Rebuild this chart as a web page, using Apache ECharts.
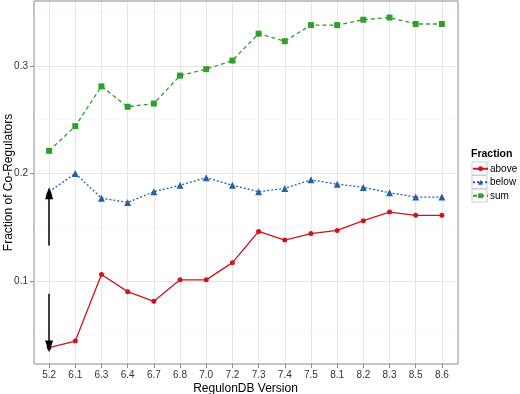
<!DOCTYPE html>
<html>
<head>
<meta charset="utf-8">
<script src="https://cdn.jsdelivr.net/npm/echarts@6/dist/echarts.min.js"></script>
<style>
  html, body { margin: 0; padding: 0; background: #fff; }
  #chart { width: 520px; height: 394px; }
</style>
</head>
<body>
<div id="chart"></div>
<script>
// RegulonDB versions on the x axis
var versions = ['5.2', '6.1', '6.3', '6.4', '6.7', '6.8', '7.0', '7.2',
                '7.3', '7.4', '7.5', '8.1', '8.2', '8.3', '8.5', '8.6'];

// fraction of co-regulators
var aboveData = [0.038, 0.044, 0.106, 0.090, 0.081, 0.101, 0.101, 0.117,
                 0.146, 0.138, 0.144, 0.147, 0.156, 0.164, 0.161, 0.161];
var belowData = [0.183, 0.200, 0.177, 0.173, 0.183, 0.189, 0.196, 0.189,
                 0.183, 0.186, 0.194, 0.190, 0.187, 0.182, 0.178, 0.178];
var sumData   = [0.221, 0.244, 0.281, 0.262, 0.265, 0.291, 0.297, 0.305,
                 0.330, 0.323, 0.338, 0.338, 0.343, 0.345, 0.339, 0.339];

var yTicks = [0.1, 0.2, 0.3];
var yMinor = [0.05, 0.15, 0.25, 0.35];

// the two arrows at 5.2 (from -> to)
var arrowUp = [0.133, 0.1815];
var arrowDown = [0.088, 0.039];

var font = 'Liberation Sans, Arial, Helvetica, sans-serif';
var myChart = echarts.init(document.getElementById('chart'));

function seriesItem(name, data, color, symbol, size, lineType) {
    return {
        name: name,
        type: 'line',
        data: data,
        symbol: symbol,
        symbolSize: size,
        showAllSymbol: true,
        itemStyle: {color: color, borderWidth: 0},
        lineStyle: {color: color, width: 1.3, type: lineType},
        emphasis: {disabled: true},
        z: 3
    };
}

var gridLines = [];
for (var i = 0; i < yMinor.length; i++) {
    gridLines.push({yAxis: yMinor[i], lineStyle: {color: '#f4f4f4', width: 0.6, type: 'solid'}});
}
for (var i = 0; i < yTicks.length; i++) {
    gridLines.push({yAxis: yTicks[i], lineStyle: {color: '#e6e6e6', width: 1, type: 'solid'}});
}
for (var i = 0; i < versions.length; i++) {
    gridLines.push({xAxis: versions[i], lineStyle: {color: '#e6e6e6', width: 1, type: 'solid'}});
}

var option = {
    animation: false,
    textStyle: {fontFamily: font},
    grid: {left: 36, right: 65, top: 1, bottom: 30, outerBoundsMode: 'none', containLabel: false},
    title: {
        text: 'Fraction',
        left: 471, top: 149,
        padding: 0,
        textStyle: {fontFamily: font, fontSize: 10.5, fontWeight: 'bold', color: '#000'}
    },
    legend: {
        data: ['above', 'below', 'sum'],
        orient: 'vertical',
        left: 472, top: 162,
        padding: 0,
        itemWidth: 15, itemHeight: 6, itemGap: 0,
        textStyle: {fontFamily: font, fontSize: 10, color: '#000', lineHeight: 13.5, padding: [0, 0, 0, -3]}
    },
    graphic: [
        {type: 'rect', shape: {x: 34, y: 1, width: 424, height: 363},
         style: {fill: 'none', stroke: '#8a8a8a', lineWidth: 1}, z: 10, silent: true},
        {type: 'rect', shape: {x: 472, y: 162, width: 15, height: 13},
         style: {fill: '#fff', stroke: '#cccccc', lineWidth: 1}, z: -1, silent: true},
        {type: 'rect', shape: {x: 472, y: 175.5, width: 15, height: 13},
         style: {fill: '#fff', stroke: '#cccccc', lineWidth: 1}, z: -1, silent: true},
        {type: 'rect', shape: {x: 472, y: 189, width: 15, height: 13},
         style: {fill: '#fff', stroke: '#cccccc', lineWidth: 1}, z: -1, silent: true}
    ],
    xAxis: {
        type: 'category',
        data: versions,
        boundaryGap: true,
        name: 'RegulonDB Version',
        nameLocation: 'middle',
        nameGap: 19,
        nameMoveOverlap: false,
        nameTextStyle: {fontFamily: font, fontSize: 12, color: '#000'},
        axisLine: {show: false},
        axisTick: {show: true, alignWithLabel: true, length: 4, lineStyle: {color: '#8a8a8a'}},
        axisLabel: {fontFamily: font, fontSize: 10, color: '#333', margin: 6, interval: 0},
        splitLine: {show: false}
    },
    yAxis: {
        type: 'value',
        min: 0.0227,
        max: 0.3604,
        offset: 2,
        name: 'Fraction of Co-Regulators',
        nameLocation: 'middle',
        nameGap: 19,
        nameMoveOverlap: false,
        nameTextStyle: {fontFamily: font, fontSize: 12, color: '#000'},
        axisLine: {show: false},
        axisTick: {show: true, length: 4, customValues: yTicks, lineStyle: {color: '#8a8a8a'}},
        axisLabel: {fontFamily: font, fontSize: 10, color: '#333', margin: 6, customValues: yTicks},
        splitLine: {show: false}
    },
    series: [
        {
            name: 'grid',
            type: 'line',
            data: [],
            silent: true,
            z: 1,
            markLine: {
                silent: true,
                z: 1,
                symbol: ['none', 'none'],
                label: {show: false},
                animation: false,
                data: gridLines
            }
        },
        seriesItem('above', aboveData, '#d0141c', 'circle', 5, 'solid'),
        seriesItem('below', belowData, '#2061a8', 'triangle', 7, [2, 2]),
        seriesItem('sum', sumData, '#2ea02b', 'rect', 6, [4, 3]),
        {
            name: 'arrows',
            type: 'line',
            data: [],
            silent: true,
            z: 6,
            markLine: {
                silent: true,
                z: 6,
                symbol: ['none', 'triangle'],
                symbolSize: [8, 12],
                label: {show: false},
                animation: false,
                lineStyle: {color: '#000', width: 1.5, type: 'solid'},
                itemStyle: {color: '#000'},
                data: [
                    [{coord: [versions[0], arrowUp[0]]}, {coord: [versions[0], arrowUp[1]]}],
                    [{coord: [versions[0], arrowDown[0]]}, {coord: [versions[0], arrowDown[1]]}]
                ]
            }
        }
    ]
};

myChart.setOption(option);
</script>
</body>
</html>
